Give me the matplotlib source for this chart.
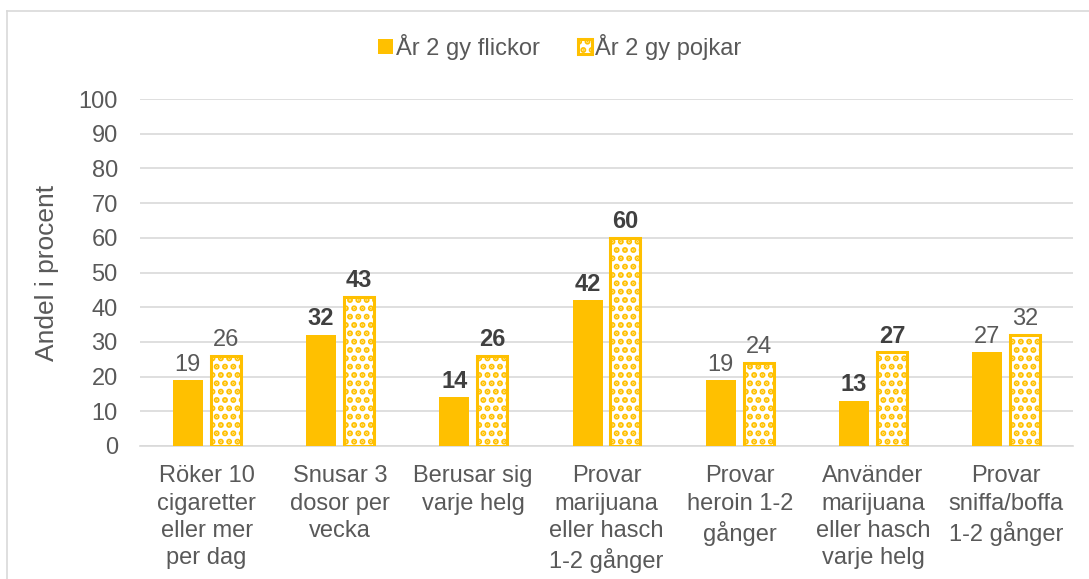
import matplotlib
matplotlib.use("Agg")
import matplotlib.pyplot as plt
import numpy as np
from matplotlib.lines import Line2D

plt.rcParams['font.family'] = ['Liberation Sans', 'DejaVu Sans']
plt.rcParams['hatch.linewidth'] = 3.0

categories = ["Röker 10\ncigaretter\neller mer\nper dag",
              "Snusar 3\ndosor per\nvecka",
              "Berusar sig\nvarje helg",
              "Provar\nmarijuana\neller hasch\n1-2 gånger",
              "Provar\nheroin 1-2\ngånger",
              "Använder\nmarijuana\neller hasch\nvarje helg",
              "Provar\nsniffa/boffa\n1-2 gånger"]
flickor = [19, 32, 14, 42, 19, 13, 27]
pojkar = [26, 43, 26, 60, 24, 27, 32]
flickor_bold = [False, True, True, True, False, True, False]
pojkar_bold = [False, True, True, True, False, True, False]
series_names = ["År 2 gy flickor", "År 2 gy pojkar"]
yticks = [0, 10, 20, 30, 40, 50, 60, 70, 80, 90, 100]

gold = '#FFC000'
txt = '#595959'

fig = plt.figure(figsize=(10.89, 5.79), dpi=100)
ax = fig.add_axes([140/1089, 1-446/579, (1073-140)/1089, (446-99)/579])

x = np.arange(len(categories))
w = 0.225
off = 0.142
b1 = ax.bar(x - off, flickor, w, color=gold, label=series_names[0], zorder=3)
b2 = ax.bar(x + off, pojkar, w, facecolor='white', edgecolor=gold, hatch='..',
            linewidth=2.2, label=series_names[1], zorder=3)

for i in range(len(x)):
    ax.text(x[i] - off, flickor[i] + 1.3, str(flickor[i]), ha='center', va='bottom',
            fontsize=17, color='#404040' if flickor_bold[i] else txt,
            fontweight='bold' if flickor_bold[i] else 'normal')
    ax.text(x[i] + off, pojkar[i] + 1.3, str(pojkar[i]), ha='center', va='bottom',
            fontsize=17, color='#404040' if pojkar_bold[i] else txt,
            fontweight='bold' if pojkar_bold[i] else 'normal')

ax.set_xlim(-0.5, len(categories) - 0.5)
ax.set_ylim(0, 100)
ax.set_yticks(yticks)
ax.set_yticklabels([str(t) for t in yticks], fontsize=17, color=txt)
ax.set_xticks(x)
ax.set_xticklabels(categories, fontsize=17, color=txt, va='top', linespacing=1.3)
ax.tick_params(axis='both', length=0)
ax.tick_params(axis='x', pad=14)
ax.tick_params(axis='y', pad=16)
ax.grid(axis='y', color='#D9D9D9', linewidth=1.2, zorder=0)
for s in ['top', 'right', 'left']:
    ax.spines[s].set_visible(False)
ax.spines['bottom'].set_color('#D9D9D9')
ax.spines['bottom'].set_linewidth(1.2)
ax.set_ylabel("Andel i procent", fontsize=19, color=txt, labelpad=14)

leg = fig.legend(handles=[b1, b2], labels=series_names, loc='center',
                 bbox_to_anchor=(560/1089, 1-47/579), ncol=2, frameon=False,
                 fontsize=17, handlelength=0.6, handleheight=0.6,
                 handletextpad=0.15, columnspacing=1.6)
for t in leg.get_texts():
    t.set_color(txt)

fig.lines.append(Line2D([7/1089, 7/1089], [0, 1-11/579], transform=fig.transFigure,
                        color='#D9D9D9', linewidth=1.2))
fig.lines.append(Line2D([7/1089, 1], [1-11/579, 1-11/579], transform=fig.transFigure,
                        color='#D9D9D9', linewidth=1.2))

fig.savefig("out.png", dpi=100)
